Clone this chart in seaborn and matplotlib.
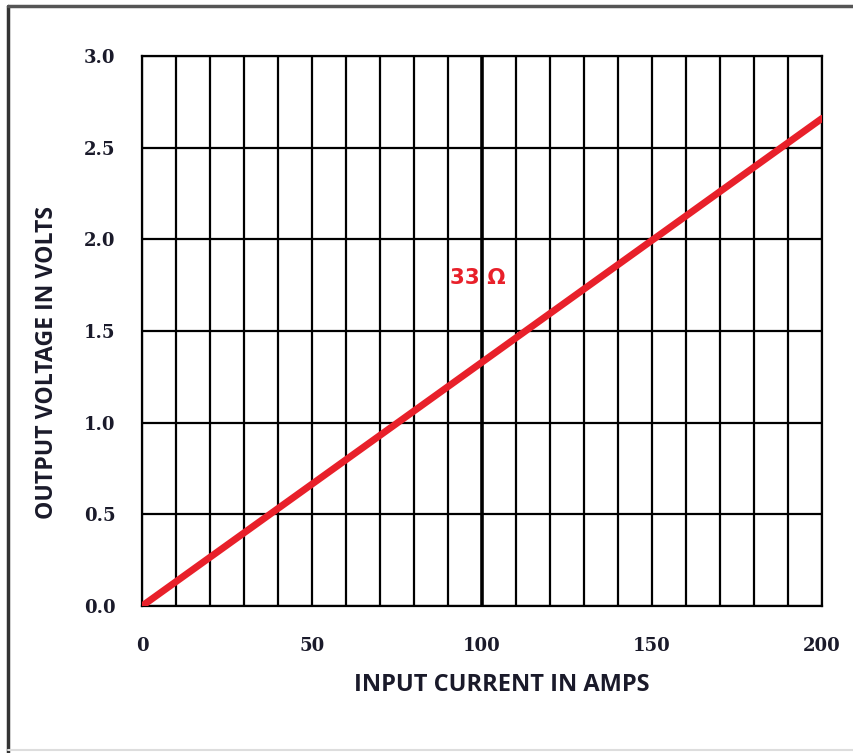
import matplotlib
matplotlib.use("Agg")
import matplotlib.pyplot as plt
from matplotlib.lines import Line2D
import seaborn as sns
import pandas as pd
import numpy as np

current_amps = [0, 50, 100, 150, 200]
output_volts = [0.0, 0.665, 1.33, 1.995, 2.66]
x_ticks = [0, 50, 100, 150, 200]
y_ticks = [0.0, 0.5, 1.0, 1.5, 2.0, 2.5, 3.0]
annotation = "33 Ω"

sns.set_style("white")
df = pd.DataFrame({"current": current_amps, "voltage": output_volts})

fig = plt.figure(figsize=(8.54, 7.53), dpi=100)
ax = fig.add_axes([0.1663, 0.1952, 0.7963, 0.7304])

# grid
for xv in range(0, 201, 10):
    lw = 2.6 if xv == 100 else 1.6
    ax.axvline(xv, color="black", lw=lw, zorder=1)
for yv in y_ticks:
    ax.axhline(yv, color="black", lw=1.6, zorder=1)

sns.lineplot(data=df, x="current", y="voltage", color="#e8202a", lw=5, ax=ax, zorder=3)

ax.set_xlim(0, 200)
ax.set_ylim(0, 3.0)
ax.set_xticks(x_ticks)
ax.set_yticks(y_ticks)
ax.set_xticklabels([str(t) for t in x_ticks], family="DejaVu Serif", weight="bold", fontsize=13, color="#1a1a2a")
ax.set_yticklabels([f"{t:.1f}" for t in y_ticks], family="DejaVu Serif", weight="bold", fontsize=13, color="#1a1a2a")
ax.tick_params(axis="x", length=0, pad=22)
ax.tick_params(axis="y", length=0, pad=19)
for s in ax.spines.values():
    s.set_visible(True)
    s.set_color("black")
    s.set_linewidth(1.6)

ax.set_xlabel("INPUT CURRENT IN AMPS", family="Open Sans", weight="bold", fontsize=17, color="#1a1a2a")
ax.set_ylabel("OUTPUT VOLTAGE IN VOLTS", family="Open Sans", weight="bold", fontsize=16.6, color="#1a1a2a")
ax.xaxis.set_label_coords((502 - 142) / 680, -(685 - 606) / 550)
ax.xaxis.label.set_va("center")
ax.yaxis.set_label_coords(-(142 - 47) / 680, (606 - 362) / 550)
ax.yaxis.label.set_va("center")

ax.text(98.7, 1.789, annotation, color="#e8202a", fontsize=15.5, weight="bold",
        family="DejaVu Sans", ha="center", va="center", zorder=4)

# outer frame
fig.add_artist(Line2D([8/854, 8/854], [0, 1-6/753], transform=fig.transFigure, color="#333333", lw=2.5))
fig.add_artist(Line2D([8/854, 1], [1-6/753, 1-6/753], transform=fig.transFigure, color="#555555", lw=2.5))
fig.add_artist(Line2D([8/854, 1], [3/753, 3/753], transform=fig.transFigure, color="#dddddd", lw=1.5))

fig.savefig("out.png", dpi=100)
